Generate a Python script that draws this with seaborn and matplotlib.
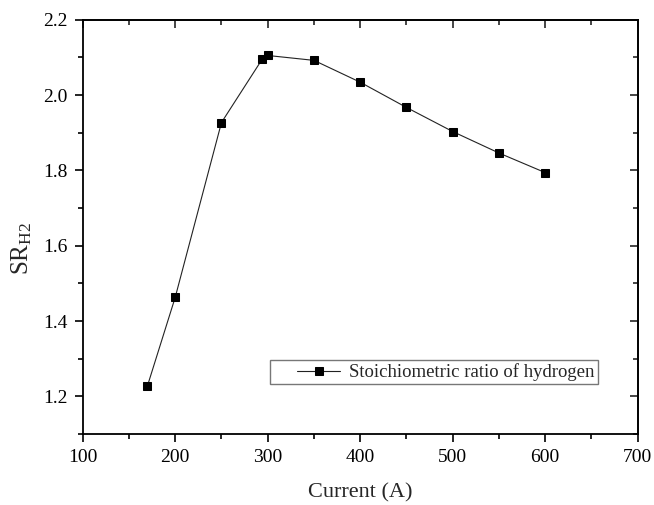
import matplotlib
matplotlib.use("Agg")
import matplotlib.pyplot as plt
import seaborn as sns
import pandas as pd
from matplotlib.ticker import MultipleLocator, FormatStrFormatter
from matplotlib.legend_handler import HandlerLine2D

current = [170, 200, 250, 294, 300, 350, 400, 450, 500, 550, 600]
sr_h2 = [1.228, 1.463, 1.927, 2.095, 2.105, 2.092, 2.034, 1.967, 1.903, 1.846, 1.794]
series_label = "Stoichiometric ratio of hydrogen"
x_label = "Current (A)"
y_label = r"$\mathrm{SR_{H2}}$"

sns.set_style("ticks")
plt.rcParams["font.family"] = ["Liberation Serif", "DejaVu Serif"]
plt.rcParams["mathtext.fontset"] = "custom"
plt.rcParams["mathtext.rm"] = "Liberation Serif"
plt.rcParams["mathtext.it"] = "Liberation Serif:italic"

df = pd.DataFrame({"current": current, "sr": sr_h2})

fig = plt.figure(figsize=(6.54, 5.05), dpi=100)
ax = fig.add_axes([0.1265, 0.1406, 0.8486, 0.8204])

sns.lineplot(data=df, x="current", y="sr", ax=ax, color="#222222", linewidth=0.8,
             marker="s", markersize=5.8, markerfacecolor="black",
             markeredgecolor="black", label=series_label)

ax.set_xlim(100, 700)
ax.set_ylim(1.1, 2.2)
ax.xaxis.set_major_locator(MultipleLocator(100))
ax.xaxis.set_minor_locator(MultipleLocator(50))
ax.yaxis.set_major_locator(MultipleLocator(0.2))
ax.yaxis.set_minor_locator(MultipleLocator(0.1))
ax.yaxis.set_major_formatter(FormatStrFormatter("%.1f"))

for s in ax.spines.values():
    s.set_visible(True)
    s.set_linewidth(1.3)
    s.set_color("black")

ax.tick_params(which="both", bottom=True, left=True, top=False, right=False,
               direction="out", width=1.2, colors="black", labelsize=14, pad=5)
ax.tick_params(which="major", length=6)
ax.tick_params(which="minor", length=3.5)

ax_top = ax.secondary_xaxis("top")
ax_top.xaxis.set_major_locator(MultipleLocator(100))
ax_top.xaxis.set_minor_locator(MultipleLocator(50))
ax_top.tick_params(which="both", direction="in", width=1.2, labeltop=False)
ax_top.tick_params(which="major", length=6)
ax_top.tick_params(which="minor", length=3.5)
ax_top.spines["top"].set_linewidth(1.3)
ax_right = ax.secondary_yaxis("right")
ax_right.yaxis.set_major_locator(MultipleLocator(0.2))
ax_right.yaxis.set_minor_locator(MultipleLocator(0.1))
ax_right.tick_params(which="both", direction="in", width=1.2, labelright=False)
ax_right.tick_params(which="major", length=6)
ax_right.tick_params(which="minor", length=3.5)
ax_right.spines["right"].set_linewidth(1.3)

ax.set_xlabel(x_label, fontsize=16, labelpad=12)
ax.set_ylabel(y_label, fontsize=18)
ax.yaxis.set_label_coords(-0.088, 0.449)

leg = ax.legend(loc="upper right", bbox_to_anchor=(0.928, 0.179), borderaxespad=0,
                fontsize=13.5, frameon=True, fancybox=False, handlelength=3.6,
                borderpad=0.18, handletextpad=0.45,
                handler_map={matplotlib.lines.Line2D: HandlerLine2D(xpad=1.3)})
leg.get_frame().set_edgecolor("#555555")
leg.get_frame().set_linewidth(1.0)

fig.savefig("out.png", dpi=100)
